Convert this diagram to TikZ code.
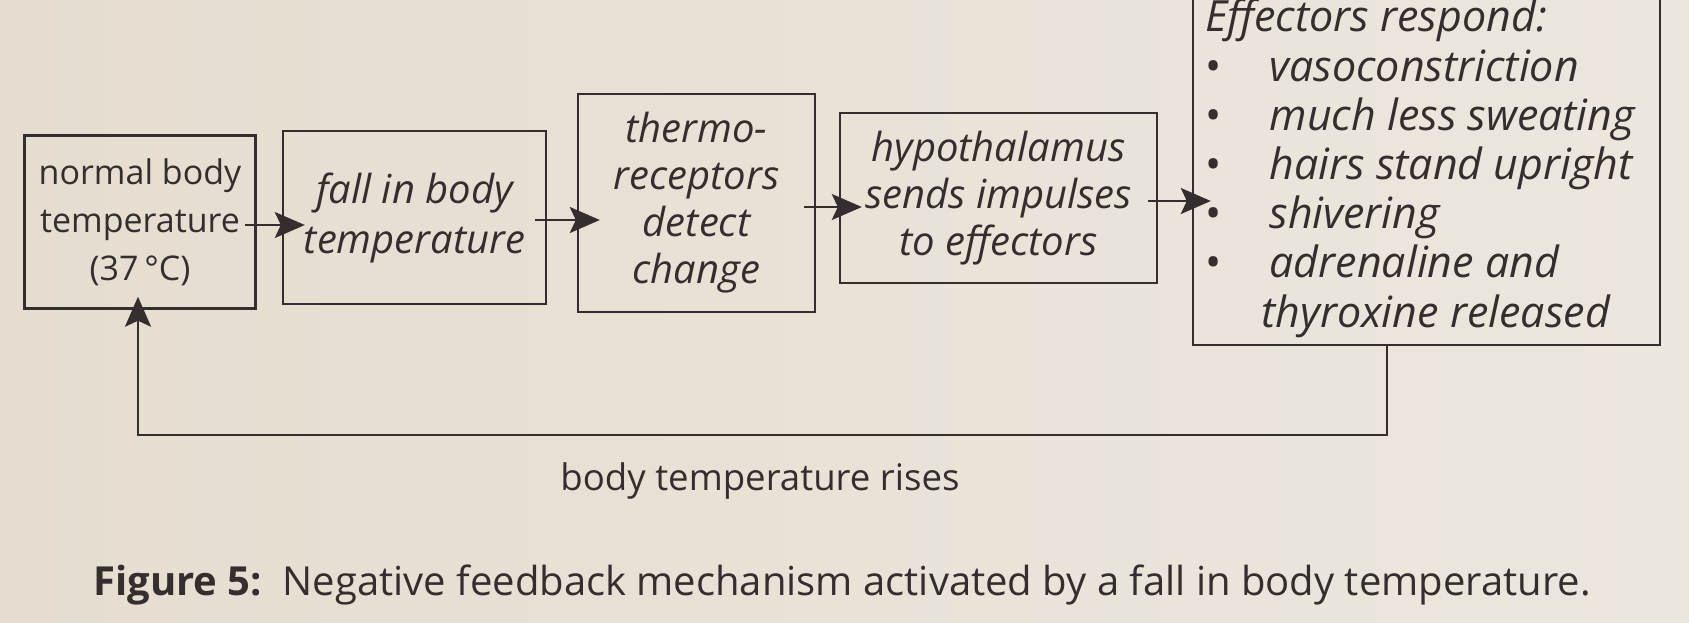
\documentclass[tikz,border=0pt]{standalone}
\usepackage{fontspec}
\setmainfont{Open Sans}
\usetikzlibrary{arrows.meta,calc}
\definecolor{paper}{RGB}{228,221,208}
\definecolor{paperR}{RGB}{236,231,222}
\definecolor{ink}{RGB}{52,47,46}
\tikzset{
  box/.style={draw=ink, line width=1.2pt, text=ink, align=center, inner sep=0pt},
  arr/.style={draw=ink, line width=1.2pt, -{Stealth[length=15pt,width=13pt,inset=3pt]}},
  lbl/.style={text=ink, inner sep=0pt},
}
\begin{document}
\begin{tikzpicture}[x=0.5pt,y=-0.5pt]
\useasboundingbox (0,0) rectangle (1689,622);
\clip (0,0) rectangle (1689,622);
\shade[left color=paper, right color=paperR] (0,0) rectangle (1689,622);
\node[box, minimum width=0.5*231pt, minimum height=0.5*173pt, font=\fontsize{17}{24}\selectfont] (b1) at (140,222) {normal body\\temperature\\(37\,°C)};
\node[box, minimum width=0.5*263pt, minimum height=0.5*173pt, font=\fontsize{20}{25}\selectfont\itshape] (b2) at (414.5,217.5) {fall in body\\temperature};
\node[box, minimum width=0.5*237pt, minimum height=0.5*218pt, font=\fontsize{20}{23.5}\selectfont\itshape] (b3) at (696.5,203) {thermo-\\receptors\\detect\\change};
\node[box, minimum width=0.5*317pt, minimum height=0.5*170pt, font=\fontsize{20}{23.5}\selectfont\itshape] (b4) at (998.5,198) {hypothalamus\\sends impulses\\to effectors};
\node[box, minimum width=0.5*467pt, minimum height=0.5*355pt] (b5) at (1426.5,167.5) {};
\node[lbl, anchor=north west, align=left, font=\fontsize{21.5}{24.6}\selectfont\itshape] (eff) at (1205,-3) {%
\begin{tabular}{@{}l@{\hspace{24pt}}l@{}}
\multicolumn{2}{@{}l}{Effectors respond:}\\
\upshape\textbullet & vasoconstriction\\
\upshape\textbullet & much less sweating\\
\upshape\textbullet & hairs stand upright\\
\upshape\textbullet & shivering\\
\upshape\textbullet & adrenaline and\\
\multicolumn{2}{@{}l}{\hspace{28pt}thyroxine released}
\end{tabular}};
\draw[arr, shorten <=-6pt, shorten >=-11.5pt] ([yshift=-1.5pt]b1.east) -- ([yshift=-1.5pt]b1.east -| b2.west);
\draw[arr, shorten <=-6pt, shorten >=-11.5pt] ([yshift=-1.25pt]b2.east) -- ([yshift=-1.25pt]b2.east -| b3.west);
\draw[arr, shorten <=-6pt, shorten >=-11.5pt] ([yshift=-2pt]b3.east) -- ([yshift=-2pt]b3.east -| b4.west);
\draw[arr, shorten <=-5pt, shorten >=-9.5pt] ([yshift=-1.5pt]b4.east) -- ([yshift=-1.5pt]b4.east -| b5.west);
\coordinate (loopR) at (1387,435);
\coordinate (loopL) at (138,435);
\draw[arr, shorten >=-6.5pt] (b5.south -| loopR) -- (loopR) -- (loopL) -- (b1.south -| loopL);
\node[lbl, font=\fontsize{18.3}{24}\selectfont] (rises) at (760,481) {body temperature rises};
\node[lbl, font=\fontsize{20}{24}\selectfont] (cap) at (842,585) {\textbf{Figure 5:}\ \ Negative feedback mechanism activated by a fall in body temperature.};
\end{tikzpicture}
\end{document}
